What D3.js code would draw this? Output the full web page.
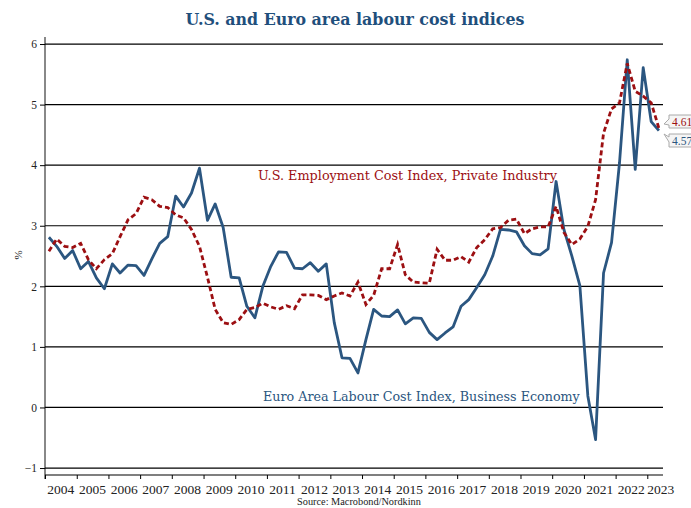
<!DOCTYPE html>
<html>
<head>
<meta charset="utf-8">
<script src="https://cdnjs.cloudflare.com/ajax/libs/d3/7.8.5/d3.min.js"></script>
<style>
  body { margin:0; background:#fff; }
  svg { display:block; font-family:"Liberation Serif","DejaVu Serif",serif; }
</style>
</head>
<body>
<svg id="chart" width="691" height="508"></svg>
<script>
'use strict';
// quarterly data, 2004Q1 .. 2023Q2 (y/y %)
var startYear = 2004;
var euroLci = [2.81,2.66,2.46,2.59,2.29,2.41,2.14,1.96,2.37,2.22,2.35,2.34,2.18,2.45,2.71,2.82,
  3.49,3.31,3.54,3.95,3.09,3.36,2.97,2.15,2.14,1.67,1.48,2.00,2.33,2.57,2.56,2.30,
  2.29,2.39,2.25,2.37,1.40,0.82,0.81,0.57,1.12,1.62,1.51,1.50,1.61,1.38,1.48,1.47,
  1.24,1.12,1.23,1.33,1.67,1.78,1.98,2.19,2.50,2.94,2.93,2.90,2.67,2.54,2.52,2.62,
  3.73,2.94,2.50,2.01,0.19,-0.53,2.22,2.72,4.04,5.74,3.93,5.61,4.72,4.57];
var usEci = [2.58,2.78,2.66,2.64,2.71,2.44,2.29,2.44,2.54,2.82,3.10,3.20,3.47,3.43,3.32,3.30,
  3.18,3.13,2.94,2.66,2.15,1.62,1.40,1.37,1.45,1.62,1.65,1.72,1.66,1.62,1.68,1.63,
  1.86,1.86,1.85,1.78,1.84,1.89,1.84,2.07,1.70,1.85,2.29,2.29,2.69,2.19,2.07,2.06,
  2.05,2.61,2.43,2.43,2.49,2.40,2.64,2.77,2.95,2.97,3.09,3.11,2.87,2.95,2.98,2.98,
  3.32,2.89,2.69,2.78,2.99,3.43,4.53,4.93,5.03,5.68,5.22,5.14,5.03,4.61];
var yearTicks = d3.range(2004, 2024);
var yTicks = [-1,0,1,2,3,4,5,6];
var lastLabels = ["4.61","4.57"];

var blue = "#2b5680", red = "#9c0f12", titleBlue = "#1f4f7c";

var svg = d3.select("#chart");
var x = d3.scaleTime().domain([new Date(2004,0,1), new Date(2023,6,1)]).range([45,663]);
var y = d3.scaleLinear().domain([-1.115, 6.116]).range([475,37]);

function qdate(i) {
  // middle of the quarter
  return new Date(startYear + Math.floor(i/4), (i%4)*3 + 1, 15);
}
// shrink/grow font so the text takes the wanted width
function fitText(t, w) {
  var fs = +t.attr("font-size");
  var len = t.node().getComputedTextLength();
  t.attr("font-size", (fs*w/len).toFixed(2));
  return t;
}

fitText(svg.append("text").attr("x",355).attr("y",25).attr("text-anchor","middle")
  .attr("font-family","DejaVu Serif").attr("font-size",16).attr("font-weight","bold").attr("fill",titleBlue)
  .text("U.S. and Euro area labour cost indices"), 339);

// grid + y ticks
var yAxis = d3.axisLeft(y).tickValues(yTicks).tickSize(5).tickFormat(d3.format("d"));
var gy = svg.append("g").attr("transform","translate(45,0)").call(yAxis);
gy.select(".domain").attr("stroke","#888").attr("stroke-width",2).attr("d","M0,37V479");
gy.selectAll(".tick line").attr("stroke","#000");
gy.selectAll(".tick text").attr("font-size",11.5).attr("fill","#222").attr("font-family","Liberation Serif");
svg.append("g").selectAll("line").data(yTicks).enter().append("line")
  .attr("x1",45).attr("x2",663)
  .attr("y1",function(d){return y(d);}).attr("y2",function(d){return y(d);})
  .attr("stroke","#000").attr("stroke-width",1.2);

svg.append("text").attr("transform","translate(22,255) rotate(-90)")
  .attr("text-anchor","middle").attr("font-size",11).attr("fill","#222").text("%");

// x axis
var xAxis = d3.axisBottom(x).tickValues(yearTicks.map(function(yr){return new Date(yr,0,1);}))
  .tickSize(4).tickFormat("");
var gx = svg.append("g").attr("transform","translate(0,475)").call(xAxis);
gx.select(".domain").attr("stroke","#000").attr("stroke-width",1.2).attr("d","M45,0H663");
svg.append("g").selectAll("text").data(yearTicks).enter().append("text")
  .attr("x",function(yr){ return yr==2023 ? x(new Date(yr,5,5)) : x(new Date(yr,6,1)); })
  .attr("y",494).attr("text-anchor","middle").attr("font-size",13.5).attr("fill","#222")
  .text(function(yr){return yr;});

fitText(svg.append("text").attr("x",359).attr("y",505).attr("text-anchor","middle")
  .attr("font-size",9).attr("fill","#222").text("Source: Macrobond/Nordkinn"), 124);

// lines
var line = d3.line().x(function(d,i){return x(qdate(i));}).y(function(d){return y(d);});
svg.append("path").datum(euroLci).attr("d",line).attr("fill","none")
  .attr("stroke",blue).attr("stroke-width",2.8).attr("stroke-linejoin","round");
svg.append("path").datum(usEci).attr("d",line).attr("fill","none")
  .attr("stroke",red).attr("stroke-width",2.8).attr("stroke-dasharray","5,3");

fitText(svg.append("text").attr("x",258).attr("y",180).attr("font-family","DejaVu Serif")
  .attr("font-size",13).attr("fill",red)
  .text("U.S. Employment Cost Index, Private Industry"), 299);
fitText(svg.append("text").attr("x",263).attr("y",401).attr("font-family","DejaVu Serif")
  .attr("font-size",13).attr("fill",blue)
  .text("Euro Area Labour Cost Index, Business Economy"), 317);

// end value callouts
function callout(top, tipY, col, txt) {
  var p = d3.path();
  p.moveTo(669, top); p.lineTo(700, top); p.lineTo(700, top+13); p.lineTo(669, top+13);
  if (tipY > top+6) { p.lineTo(669, top+10); p.lineTo(664, tipY); p.lineTo(669, top+4); }
  else { p.lineTo(669, top+8); p.lineTo(664, tipY); p.lineTo(669, top+3); }
  p.closePath();
  svg.append("path").attr("d",p.toString()).attr("fill","#f5f5f5").attr("stroke","#aaa");
  svg.append("text").attr("x",672).attr("y",top+10.5).attr("font-size",11.5).attr("fill",col).text(txt);
}
callout(115, 124, red, lastLabels[0]);
callout(134, 134, blue, lastLabels[1]);
</script>
</body>
</html>
